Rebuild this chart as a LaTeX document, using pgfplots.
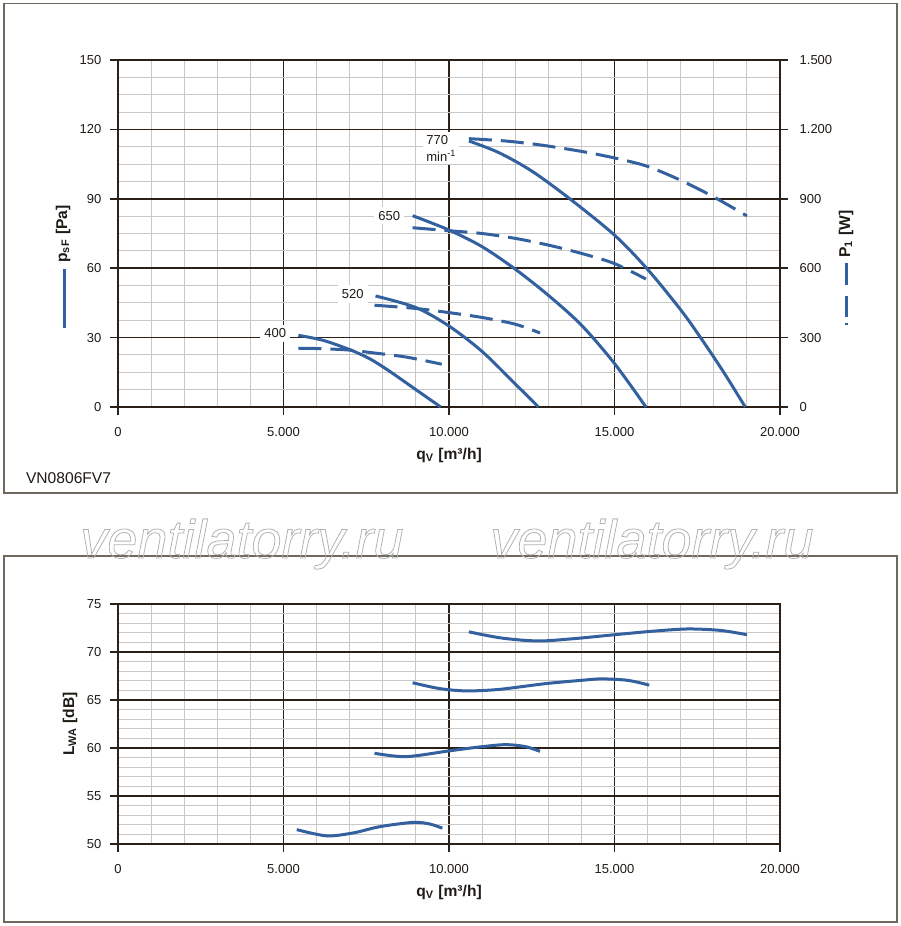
\documentclass[border=0pt]{standalone}
\usepackage{pgfplots}
\pgfplotsset{compat=1.18}
\usepackage{fontspec}
\setmainfont{Liberation Sans}
\definecolor{cblue}{HTML}{33609E}
\definecolor{gmaj}{HTML}{2B2118}
\definecolor{gmin}{HTML}{C8C8C8}
\definecolor{txt}{HTML}{1E1A14}
\definecolor{frm}{HTML}{6E685E}
\pgfplotsset{
  sol/.style={draw=cblue, line width=1.5pt, smooth, mark=none},
  das/.style={draw=cblue, line width=1.5pt, smooth, mark=none, dash pattern=on 11.5pt off 4.5pt},
  base/.style={
    scale only axis, width=331pt, anchor=south west,
    xmin=0, xmax=20000,
    xtick={0,5000,10000,15000,20000},
    scaled x ticks=false,
    minor x tick num=4,
    grid=both,
    major grid style={draw=gmaj, line width=0.75pt},
    minor grid style={draw=gmin, line width=0.5pt},
    axis line style={draw=gmaj, line width=1.1pt},
    tick style={draw=gmaj, line width=0.75pt},
    tick align=outside, major tick length=4pt, minor tick length=0pt,
    xtick pos=left, ytick pos=left,
    /pgf/number format/1000 sep={.},
    /pgf/number format/assume math mode=true,
    ticklabel style={font=\fontsize{6.5}{7}\selectfont, text=txt},
    xticklabel style={yshift=-2.5pt},
    yticklabel style={xshift=-0.8pt},
    xlabel={q\textsubscript{V} [m³/h]},
    xlabel style={at={(axis description cs:0.5,0)}, anchor=center, yshift=-24pt,
      font=\bfseries\fontsize{7.8}{9}\selectfont, text=txt},
  }
}
\begin{document}
\begin{tikzpicture}
\path (0,0) rectangle (450pt,-463pt);
% ---------- top chart ----------
\begin{axis}[base, at={(59pt,-203.5pt)}, height=173.5pt,
  ymin=0, ymax=150, ytick={0,30,60,90,120,150}, minor y tick num=3]
\addplot[sol] coordinates {(10600,115) (11500,110) (12500,102) (13650,90) (15000,74.3) (16000,59.5) (17000,42) (17600,30) (18300,15) (18950,0)};
\addplot[sol] coordinates {(8900,82.7) (10000,76.5) (11000,69.3) (12000,59.6) (13000,48.3) (14000,35.4) (15000,18.8) (15950,0)};
\addplot[sol] coordinates {(7780,48) (9000,43) (10000,35) (11000,24) (12000,10) (12700,0)};
\addplot[sol] coordinates {(5450,31) (6200,28.8) (7000,24.8) (7600,20.9) (8200,15.5) (9000,7.5) (9750,0)};
\end{axis}
\begin{axis}[scale only axis, width=331pt, height=173.5pt, anchor=south west, at={(59pt,-203.5pt)},
  xmin=0, xmax=20000, ymin=0, ymax=1500,
  axis x line=none, axis y line*=right,
  ytick={0,300,600,900,1200,1500},
  axis line style={draw=gmaj, line width=1.1pt},
  tick style={draw=gmaj, line width=0.75pt},
  tick align=outside, major tick length=4pt, minor tick length=0pt,
  /pgf/number format/1000 sep={.},
  /pgf/number format/assume math mode=true,
  ticklabel style={font=\fontsize{6.5}{7}\selectfont, text=txt},
  yticklabel style={xshift=2.3pt}]
\addplot[das] coordinates {(10600,1160) (11700,1150) (12750,1133) (14000,1105) (15050,1075) (16000,1040) (17000,980) (18000,908) (19000,826)};
\addplot[das] coordinates {(8900,775) (10000,762) (11000,750) (12000,729) (13000,700) (14000,664) (15000,620) (15950,553)};
\addplot[das] coordinates {(7750,440) (9000,426) (10000,408) (11000,387) (12000,358) (12750,320)};
\addplot[das] coordinates {(5450,254) (6200,252) (7000,246) (7600,236) (8700,216) (9780,185)};
\end{axis}
% ---------- bottom chart ----------
\begin{axis}[base, at={(59pt,-422pt)}, height=120pt,
  ymin=50, ymax=75, ytick={50,55,60,65,70,75}, minor y tick num=4]
\addplot[sol] coordinates {(10600,72.1) (11600,71.45) (12700,71.15) (13800,71.4) (15000,71.8) (16100,72.15) (17200,72.4) (18200,72.25) (19000,71.8)};
\addplot[sol] coordinates {(8900,66.8) (9700,66.2) (10500,65.95) (11500,66.1) (12900,66.7) (14000,67.05) (14600,67.2) (15400,67.05) (16050,66.55)};
\addplot[sol] coordinates {(7750,59.45) (8700,59.1) (10000,59.7) (10900,60.1) (11700,60.35) (12300,60.15) (12750,59.65)};
\addplot[sol] coordinates {(5400,51.5) (6300,50.85) (7100,51.15) (7900,51.8) (8900,52.25) (9400,52.1) (9800,51.65)};
\end{axis}
% ---------- decorations (pixel units) ----------
\begin{scope}[x=0.5pt, y=-0.5pt]
\draw[frm, line width=0.8pt] (4,3.5) rectangle (897,493);
\draw[frm, line width=0.8pt] (4,556) rectangle (897,922);
\begin{scope}[font=\fontsize{6.5}{8.5}\selectfont, text=txt]
\node[fill=white, anchor=west, align=left, inner sep=1.5pt] at (423,148) {770\\min\textsuperscript{-1}};
\node[fill=white, anchor=west, inner sep=2pt] at (374,215.7) {650};
\node[fill=white, anchor=west, inner sep=2pt] at (337.5,294) {520};
\node[fill=white, anchor=west, inner sep=2pt] at (260,333.3) {400};
\end{scope}
\node[rotate=90, font=\bfseries\fontsize{7.8}{9}\selectfont, text=txt] at (63,234) {p\textsubscript{sF} [Pa]};
\draw[cblue, line width=1.5pt] (64,269) -- (64,328);
\node[rotate=90, font=\bfseries\fontsize{7.8}{9}\selectfont, text=txt] at (846,234) {P\textsubscript{1} [W]};
\draw[cblue, line width=1.5pt] (846,263) -- (846,285) (846,296) -- (846,317) (846,323) -- (846,325);
\node[rotate=90, font=\bfseries\fontsize{7.8}{9}\selectfont, text=txt] at (70,724) {L\textsubscript{WA} [dB]};
\node[anchor=west, font=\fontsize{7.8}{9}\selectfont, text=txt] at (19,478) {VN0806FV7};
\node[anchor=base west, inner sep=0pt, font=\itshape\fontsize{27}{30}\selectfont, text=black!30] at (80,558)
  {\special{pdf:literal direct 1 Tr 0.4 w}ventilatorry.ru\special{pdf:literal direct 0 Tr}};
\node[anchor=base west, inner sep=0pt, font=\itshape\fontsize{27}{30}\selectfont, text=black!30] at (490,558)
  {\special{pdf:literal direct 1 Tr 0.4 w}ventilatorry.ru\special{pdf:literal direct 0 Tr}};
\end{scope}
\end{tikzpicture}
\end{document}
